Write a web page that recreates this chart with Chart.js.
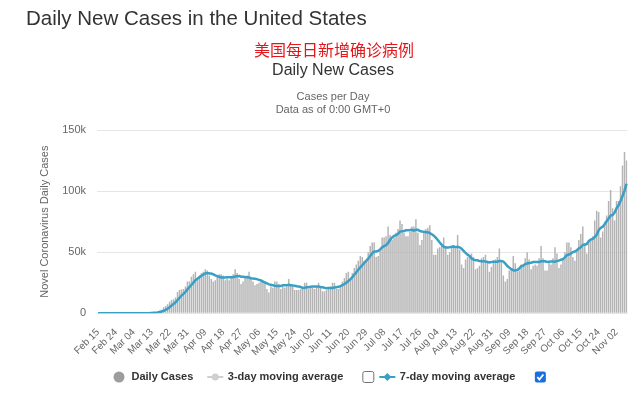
<!DOCTYPE html>
<html>
<head>
<meta charset="utf-8">
<script src="https://cdn.jsdelivr.net/npm/chart.js@4.4.1/dist/chart.umd.min.js"></script>
<style>
  html, body { margin: 0; padding: 0; background: #fff; }
  #wrap { position: relative; width: 640px; height: 397px; overflow: hidden; }
  #page-title {
    position: absolute; left: 26px; top: 6px; z-index: 2;
    font: 20.5px 'Liberation Sans', Arial, sans-serif; line-height: 24px;
    color: #333; white-space: nowrap;
  }
  #cn-title {
    position: absolute; left: 234px; top: 39px; width: 200px; z-index: 2;
    text-align: center; font: 16px 'Noto Sans CJK SC', sans-serif; line-height: 20px;
    color: #e3161b;
  }
  #chart { position: absolute; left: 0; top: 0; }
</style>
</head>
<body>
<div id="wrap">
  <div id="page-title">Daily New Cases in the United States</div>
  <div id="cn-title">美国每日新增确诊病例</div>
  <canvas id="chart" width="640" height="397"></canvas>
</div>
<script>
// values in thousands, one row per month, first day is Feb 15 2020
const dailyCases = [
  0, 0, 0, 0, 0, 0, 0, 0, 0, 0, 0, 0, 0, 0.01, 0.01,
  0.02, 0.02, 0.03, 0.03, 0.07, 0.06, 0.1, 0.12, 0.18, 0.29, 0.3, 0.42, 0.7, 0.9, 1.0, 1.8, 2.3, 3.0, 5.0, 6.0, 7.5, 9.5, 11, 11.5, 13, 17.5, 19, 19.5, 20, 22, 26,
  26, 30, 32, 34, 28, 31, 33, 34, 36, 35, 31, 28, 26, 27, 30, 32, 32, 31, 27, 28, 27, 30, 32, 36, 33, 28, 24, 26, 29, 31,
  34, 29, 26, 23, 24, 25, 28, 27, 25, 20, 17, 22, 21, 26, 26, 24, 20, 22, 21, 22, 28, 24, 22, 19, 19, 19, 20, 22, 25, 25, 20,
  21, 21, 20, 22, 25, 22, 18, 18, 19, 21, 22, 25, 25, 20, 20, 23, 26, 29, 33, 34, 29, 33, 37, 40, 43, 47, 46, 43, 44, 50,
  55, 58, 58, 46, 47, 52, 62, 62, 63, 71, 64, 60, 62, 66, 69, 76, 73, 66, 63, 63, 67, 71, 71, 77, 66, 56, 60, 66, 69, 70, 72,
  60, 48, 48, 53, 54, 57, 62, 55, 48, 50, 55, 56, 53, 64, 52, 40, 37, 44, 46, 46, 49, 46, 36, 37, 39, 45, 46, 48, 43, 34, 38,
  42, 44, 46, 53, 43, 31, 26, 28, 35, 37, 47, 41, 34, 35, 40, 40, 45, 50, 44, 36, 39, 40, 39, 45, 55, 45, 35, 35, 42, 40,
  45, 54, 49, 37, 40, 45, 50, 58, 58, 54, 46, 43, 52, 60, 65, 71, 57, 49, 60, 61, 63, 76, 84, 83, 62, 67, 75, 80, 92, 101, 86,
  76, 92, 92, 104, 121, 132, 125
];

const sevenDayAvg = [
  0, 0, 0, 0, 0, 0, 0, 0, 0, 0, 0, 0, 0, 0, 0,
  0.01, 0.01, 0.01, 0.02, 0.03, 0.03, 0.05, 0.06, 0.08, 0.12, 0.16, 0.21, 0.3, 0.42, 0.54, 0.77, 1.06, 1.45, 2.1, 2.86, 3.8, 5.01, 6.33, 7.64, 9.07, 10.86, 12.71, 14.43, 15.93, 17.5, 19.57,
  21.4, 23.2, 25.1, 27.1, 28.3, 29.6, 30.6, 31.7, 32.6, 33.0, 32.6, 32.6, 31.9, 31.0, 30.4, 29.9, 29.4, 29.4, 29.3, 29.6, 29.6, 29.6, 29.6, 30.1, 30.4, 30.6, 30.0, 29.9, 29.7, 29.6,
  29.3, 28.7, 28.4, 28.3, 28.0, 27.4, 27.0, 26.0, 25.4, 24.6, 23.7, 23.4, 22.9, 22.6, 22.4, 22.3, 22.3, 23.0, 22.9, 23.0, 23.3, 23.0, 22.7, 22.6, 22.1, 21.9, 21.6, 20.7, 20.9, 21.3, 21.4,
  21.7, 22.0, 22.0, 22.0, 22.0, 21.6, 21.3, 20.9, 20.6, 20.7, 20.7, 20.7, 21.1, 21.4, 21.7, 22.3, 23.0, 24.0, 25.1, 26.4, 27.7, 29.6, 31.6, 33.6, 35.6, 37.6, 39.3, 41.3, 42.9, 44.7,
  46.9, 49.0, 50.6, 50.6, 51.1, 52.3, 54.0, 55.0, 55.7, 57.6, 60.1, 62.0, 63.4, 64.0, 65.0, 66.9, 67.1, 67.4, 67.9, 68.0, 68.1, 68.4, 67.7, 68.3, 68.3, 67.3, 66.9, 66.7, 66.4, 66.3, 65.6,
  64.7, 63.6, 61.9, 60.0, 57.9, 56.0, 54.6, 53.9, 53.9, 54.1, 54.4, 54.7, 54.1, 54.4, 54.0, 52.9, 51.0, 49.4, 48.0, 47.0, 44.9, 44.0, 43.4, 43.4, 42.7, 42.6, 42.6, 42.4, 42.0, 41.7, 41.9,
  42.3, 42.1, 42.1, 42.9, 42.9, 42.4, 40.7, 38.7, 37.4, 36.1, 35.3, 35.0, 35.4, 36.7, 38.4, 39.1, 40.3, 40.7, 41.1, 41.4, 42.0, 42.0, 41.9, 41.9, 42.6, 42.7, 42.6, 42.0, 42.3, 42.4,
  42.4, 42.3, 42.9, 43.1, 43.9, 44.3, 45.7, 47.6, 48.1, 48.9, 50.1, 50.6, 51.6, 53.0, 54.0, 55.9, 56.3, 56.7, 59.1, 60.4, 60.9, 62.4, 64.3, 68.0, 69.9, 70.9, 72.9, 75.3, 77.6, 80.0, 80.4,
  82.4, 86.0, 88.4, 91.9, 96.0, 100.4, 106.0
];

const tickLabels = [
  'Feb 15', 'Feb 24', 'Mar 04', 'Mar 13', 'Mar 22', 'Mar 31', 'Apr 09', 'Apr 18', 'Apr 27', 'May 06',
  'May 15', 'May 24', 'Jun 02', 'Jun 11', 'Jun 20', 'Jun 29', 'Jul 08', 'Jul 17', 'Jul 26', 'Aug 04',
  'Aug 13', 'Aug 22', 'Aug 31', 'Sep 09', 'Sep 18', 'Sep 27', 'Oct 06', 'Oct 15', 'Oct 24', 'Nov 02'
];

const yTicks = [0, 50, 100, 150];

const MONTH_NAMES = ['Jan', 'Feb', 'Mar', 'Apr', 'May', 'Jun', 'Jul', 'Aug', 'Sep', 'Oct', 'Nov', 'Dec'];
const FONT = "'Liberation Sans', Arial, Helvetica, sans-serif";
const LINE_COLOR = '#3a9fc6';
const BAR_COLOR = '#b4b4b4';

// one category per day
const days = [];
const d = new Date(2020, 1, 15);
for (let i = 0; i < dailyCases.length; i++) {
  days.push(MONTH_NAMES[d.getMonth()] + ' ' + String(d.getDate()).padStart(2, '0'));
  d.setDate(d.getDate() + 1);
}

const legendItems = [
  { text: 'Daily Cases', icon: 'dot', color: '#9d9d9d' },
  { text: '3-day moving average', icon: 'circle', color: '#cfcfcf', checked: false },
  { text: '7-day moving average', icon: 'diamond', color: LINE_COLOR, checked: true }
];

function drawIcon(ctx, item, cx, cy) {
  ctx.fillStyle = item.color;
  ctx.strokeStyle = item.color;
  if (item.icon === 'dot') {
    ctx.beginPath();
    ctx.arc(cx, cy, 5.5, 0, Math.PI * 2);
    ctx.fill();
    return;
  }
  ctx.lineWidth = 2;
  ctx.beginPath();
  ctx.moveTo(cx - 8, cy);
  ctx.lineTo(cx + 8, cy);
  ctx.stroke();
  ctx.beginPath();
  if (item.icon === 'circle') {
    ctx.arc(cx, cy, 3.5, 0, Math.PI * 2);
  } else {
    ctx.moveTo(cx, cy - 4);
    ctx.lineTo(cx + 4, cy);
    ctx.lineTo(cx, cy + 4);
    ctx.lineTo(cx - 4, cy);
    ctx.closePath();
  }
  ctx.fill();
}

function drawCheckbox(ctx, x, y, checked) {
  const s = 11;
  ctx.beginPath();
  ctx.roundRect(x + 0.5, y + 0.5, s, s, 2);
  if (checked) {
    ctx.fillStyle = '#1a6fe0';
    ctx.fill();
    ctx.strokeStyle = '#fff';
    ctx.lineWidth = 1.8;
    ctx.beginPath();
    ctx.moveTo(x + 3, y + 6);
    ctx.lineTo(x + 5, y + 8.5);
    ctx.lineTo(x + 9, y + 3.5);
    ctx.stroke();
  } else {
    ctx.fillStyle = '#fff';
    ctx.fill();
    ctx.strokeStyle = '#767676';
    ctx.lineWidth = 1;
    ctx.stroke();
  }
}

// legend row with the two checkboxes, drawn under the axis labels
const legendRow = {
  id: 'legendRow',
  afterDraw(chart) {
    const ctx = chart.ctx;
    const y = 377;
    let x = 112;
    ctx.save();
    ctx.font = 'bold 11px ' + FONT;
    ctx.textBaseline = 'middle';
    legendItems.forEach(item => {
      drawIcon(ctx, item, x + 7, y);
      ctx.fillStyle = '#333';
      ctx.fillText(item.text, x + 19.5, y);
      x += 19.5 + ctx.measureText(item.text).width;
      if (item.checked !== undefined) {
        x += 19;
        drawCheckbox(ctx, x, y - 6, item.checked);
        x += 18;
      } else {
        x += 15;
      }
    });
    ctx.restore();
  }
};

new Chart(document.getElementById('chart'), {
  type: 'bar',
  data: {
    labels: days,
    datasets: [
      {
        type: 'line',
        label: '7-day moving average',
        data: sevenDayAvg,
        borderColor: LINE_COLOR,
        borderWidth: 2.5,
        pointRadius: 0,
        fill: false,
        order: 0
      },
      {
        type: 'bar',
        label: 'Daily Cases',
        data: dailyCases,
        backgroundColor: BAR_COLOR,
        barPercentage: 0.75,
        categoryPercentage: 1,
        order: 1
      }
    ]
  },
  options: {
    responsive: false,
    animation: false,
    layout: { padding: { left: 38, right: 12, top: 0, bottom: 34 } },
    plugins: {
      legend: { display: false },
      tooltip: { enabled: false },
      title: {
        display: true,
        text: 'Daily New Cases',
        color: '#333',
        font: { family: FONT, size: 16, weight: 'normal' },
        padding: { top: 61.4, bottom: 0 }
      },
      subtitle: {
        display: true,
        text: ['Cases per Day', 'Data as of 0:00 GMT+0'],
        color: '#666',
        font: { family: FONT, size: 11 },
        padding: { top: 9.8, bottom: 13.2 }
      }
    },
    scales: {
      x: {
        grid: { display: false },
        border: { color: '#e0e6ee' },
        ticks: {
          autoSkip: false,
          minRotation: 45,
          maxRotation: 45,
          padding: 5,
          color: '#666',
          font: { family: FONT, size: 10 },
          callback: (v, i) => tickLabels.includes(days[i]) ? days[i] : ''
        }
      },
      y: {
        min: 0,
        max: 150,
        afterBuildTicks: (axis) => { axis.ticks = yTicks.map(v => ({ value: v })); },
        grid: { color: '#e6e6e6', drawTicks: false },
        border: { display: false },
        ticks: {
          padding: 11,
          color: '#666',
          font: { family: FONT, size: 11 },
          callback: (v) => v === 0 ? '0' : v + 'k'
        },
        title: {
          display: true,
          text: 'Novel Coronavirus Daily Cases',
          color: '#666',
          font: { family: FONT, size: 11 },
          padding: { top: 0, bottom: 0 }
        }
      }
    }
  },
  plugins: [legendRow]
});
</script>
</body>
</html>
